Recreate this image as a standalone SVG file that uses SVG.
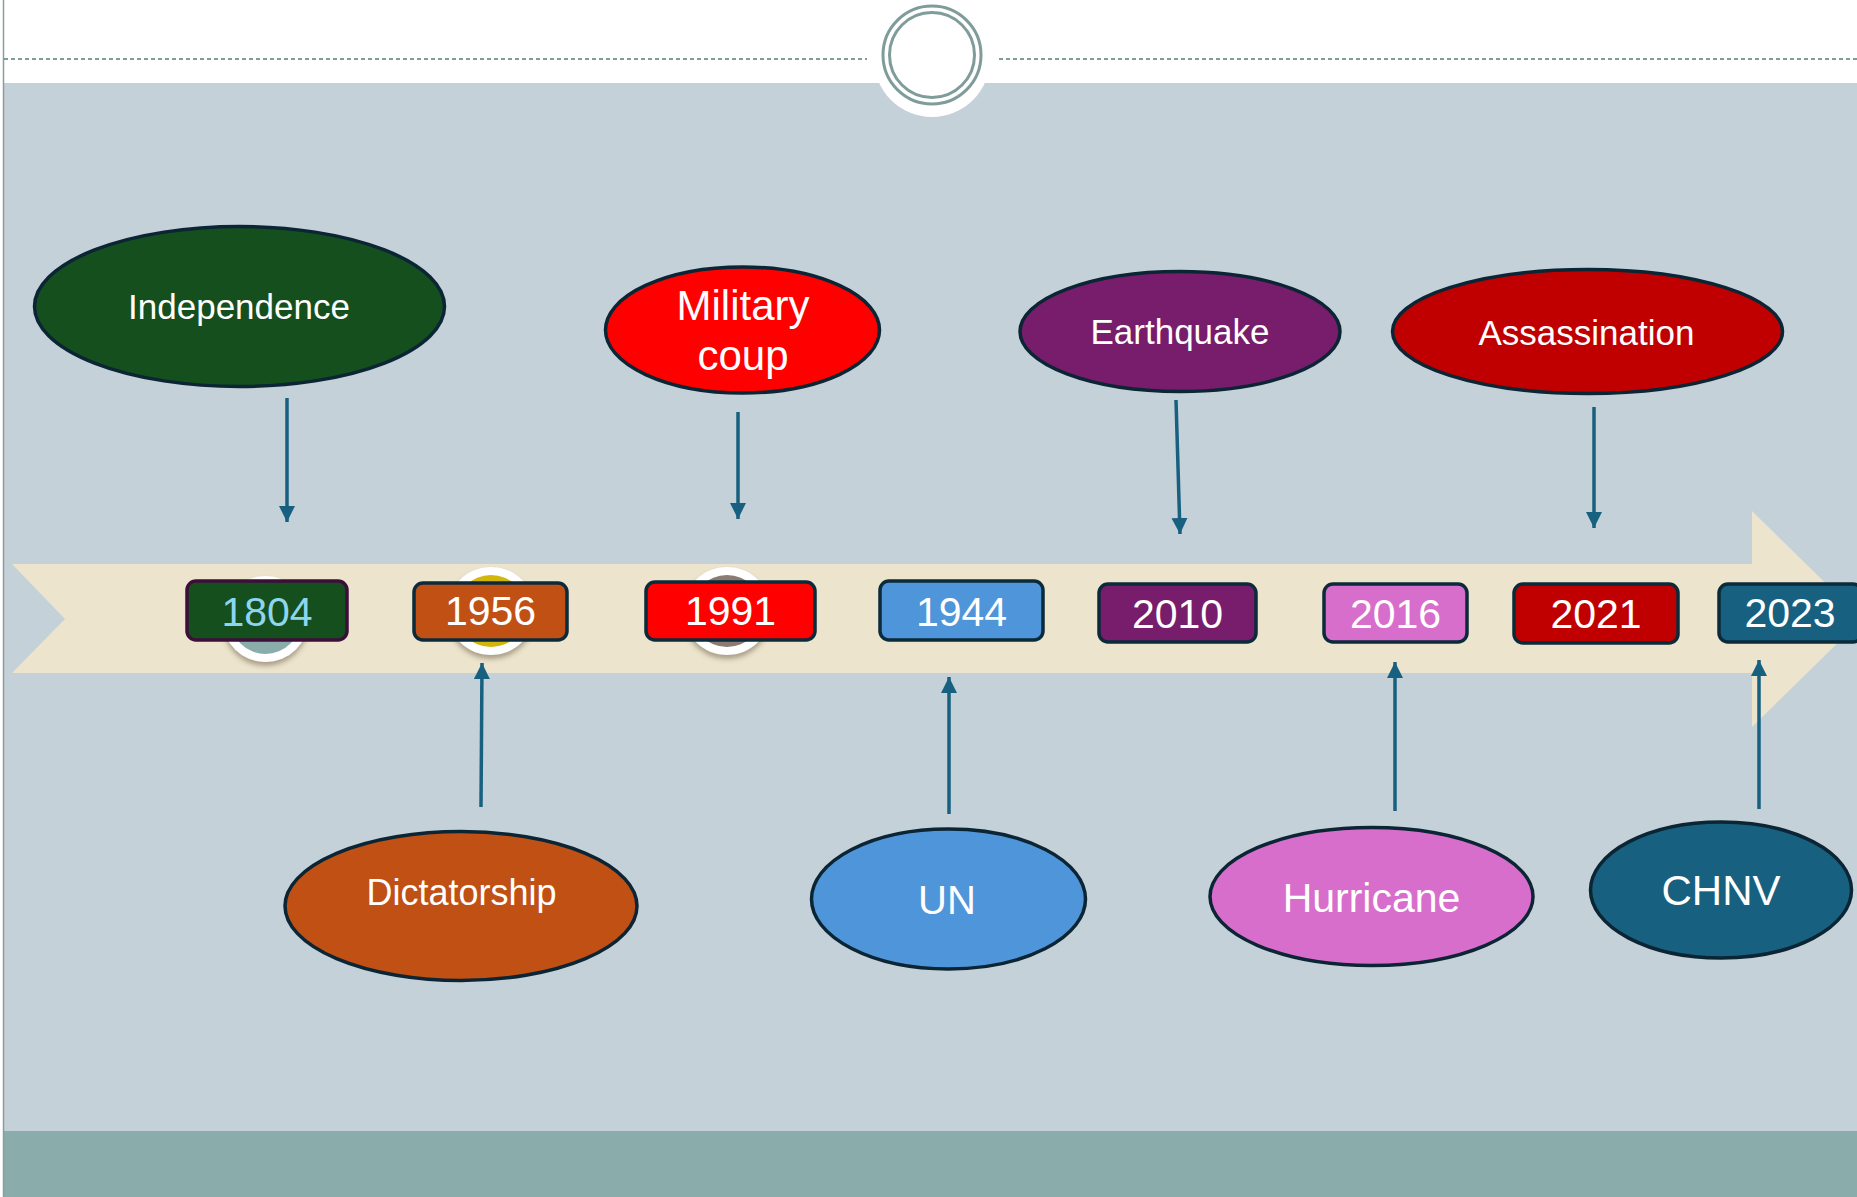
<svg xmlns="http://www.w3.org/2000/svg" width="1857" height="1197" viewBox="0 0 1857 1197">
<defs>
<style>
.lbl{font-family:"Liberation Sans",Arial,sans-serif;fill:#ffffff;text-anchor:middle}
.yr{font-family:"Liberation Sans",Arial,sans-serif;font-size:41px;fill:#ffffff;text-anchor:middle}
.ell{stroke:#0B2535;stroke-width:3.5}
.box{stroke:#0B2A3A;stroke-width:3.5}
.conn{stroke:#17607F;stroke-width:3.5;fill:none;marker-end:url(#ah)}
.ring{fill:#ffffff;filter:url(#sh)}
</style>
<marker id="ah" markerUnits="userSpaceOnUse" markerWidth="17" markerHeight="17" refX="16" refY="8" orient="auto">
<path d="M0,0 L16,8 L0,16 z" fill="#17607F"/>
</marker>
<filter id="sh" x="-30%" y="-30%" width="160%" height="170%">
<feDropShadow dx="0" dy="4" stdDeviation="2.5" flood-color="#5a4a30" flood-opacity="0.45"/>
</filter>
</defs>

<g id="background">
<rect x="0" y="0" width="1857" height="1197" fill="#ffffff"/>
<rect x="4" y="83" width="1853" height="1048" fill="#C5D1D8"/>
<rect x="4" y="1131" width="1853" height="66" fill="#8AACAB"/>
<line x1="3.5" y1="0" x2="3.5" y2="1197" stroke="#8A9C9C" stroke-width="1.5"/>
<line x1="4" y1="59" x2="867" y2="59" stroke="#7F9C9B" stroke-width="2" stroke-dasharray="4,3"/>
<line x1="999" y1="59" x2="1857" y2="59" stroke="#7F9C9B" stroke-width="2" stroke-dasharray="4,3"/>
<circle cx="932" cy="59" r="58" fill="#ffffff"/>
<circle cx="932" cy="55" r="49" fill="none" stroke="#7F9C9B" stroke-width="3"/>
<circle cx="932" cy="55" r="42.5" fill="none" stroke="#7F9C9B" stroke-width="3"/>
<path d="M12,564 L1752,564 L1752,511 L1862,619 L1752,727 L1752,673 L12,673 L65,619 z" fill="#ECE4CD"/>
</g>

<g id="connectors">
<line class="conn" x1="287" y1="398" x2="287" y2="522"/>
<line class="conn" x1="738" y1="412" x2="738" y2="519"/>
<line class="conn" x1="1176" y1="400" x2="1180" y2="534"/>
<line class="conn" x1="1594" y1="407" x2="1594" y2="528"/>
<line class="conn" x1="481" y1="807" x2="482" y2="663"/>
<line class="conn" x1="949" y1="814" x2="949" y2="677"/>
<line class="conn" x1="1395" y1="811" x2="1395" y2="662"/>
<line class="conn" x1="1759" y1="809" x2="1759" y2="660"/>
</g>

<g id="year-1804">
<circle class="ring" cx="265.5" cy="619" r="43"/>
<circle cx="265.5" cy="619" r="35" fill="#8AACAB"/>
<rect x="187" y="581" width="160" height="59" rx="9" fill="#154F1E" stroke="#3D0E3A" stroke-width="3.5"/>
<text class="yr" x="267" y="626" style="fill:#8ED6F0">1804</text>
</g>
<g id="year-1956">
<circle class="ring" cx="491" cy="611" r="44"/>
<circle cx="491" cy="611" r="36" fill="#D4B60A"/>
<rect class="box" x="414" y="583" width="153" height="57" rx="9" fill="#C05014"/>
<text class="yr" x="490.5" y="625">1956</text>
</g>
<g id="year-1991">
<circle class="ring" cx="727" cy="611" r="44"/>
<circle cx="727" cy="611" r="36" fill="#8C7B73"/>
<rect class="box" x="646" y="582" width="169" height="58" rx="9" fill="#FF0000"/>
<text class="yr" x="730.5" y="625">1991</text>
</g>
<g id="year-1944">
<rect class="box" x="880" y="581" width="163" height="59" rx="9" fill="#4F95D9"/>
<text class="yr" x="961.5" y="626">1944</text>
</g>
<g id="year-2010">
<rect class="box" x="1099" y="584" width="157" height="58" rx="9" fill="#771D6B"/>
<text class="yr" x="1177.5" y="628">2010</text>
</g>
<g id="year-2016">
<rect class="box" x="1324" y="584" width="143" height="58" rx="9" fill="#D86ECC"/>
<text class="yr" x="1395.5" y="628">2016</text>
</g>
<g id="year-2021">
<rect class="box" x="1514" y="584" width="164" height="59" rx="9" fill="#C00000"/>
<text class="yr" x="1596" y="628">2021</text>
</g>
<g id="year-2023">
<rect class="box" x="1719" y="584" width="143" height="58" rx="9" fill="#17607F"/>
<text class="yr" x="1790" y="627">2023</text>
</g>

<g id="ev-independence">
<ellipse class="ell" cx="239.5" cy="306.5" rx="205" ry="80" fill="#154F1E"/>
<text class="lbl" x="239" y="319" font-size="35">Independence</text>
</g>
<g id="ev-military-coup">
<ellipse class="ell" cx="742.5" cy="330" rx="137" ry="63" fill="#FF0000"/>
<text class="lbl" x="743" y="320" font-size="42">Military</text>
<text class="lbl" x="743" y="370" font-size="42">coup</text>
</g>
<g id="ev-earthquake">
<ellipse class="ell" cx="1180" cy="331.5" rx="160" ry="60" fill="#771D6B"/>
<text class="lbl" x="1180" y="344" font-size="35">Earthquake</text>
</g>
<g id="ev-assassination">
<ellipse class="ell" cx="1587.5" cy="331.5" rx="195" ry="62" fill="#C00000"/>
<text class="lbl" x="1586.5" y="345" font-size="35">Assassination</text>
</g>
<g id="ev-dictatorship">
<ellipse class="ell" cx="461" cy="906" rx="176" ry="74.5" fill="#C05014"/>
<text class="lbl" x="461.5" y="905" font-size="36">Dictatorship</text>
</g>
<g id="ev-un">
<ellipse class="ell" cx="948.5" cy="899" rx="137" ry="70" fill="#4F95D9"/>
<text class="lbl" x="947" y="914" font-size="40">UN</text>
</g>
<g id="ev-hurricane">
<ellipse class="ell" cx="1371.5" cy="896.5" rx="161.5" ry="69" fill="#D86ECC"/>
<text class="lbl" x="1371.5" y="912" font-size="41">Hurricane</text>
</g>
<g id="ev-chnv">
<ellipse class="ell" cx="1721" cy="890" rx="130.5" ry="68" fill="#17607F"/>
<text class="lbl" x="1721" y="905" font-size="42">CHNV</text>
</g>
</svg>
